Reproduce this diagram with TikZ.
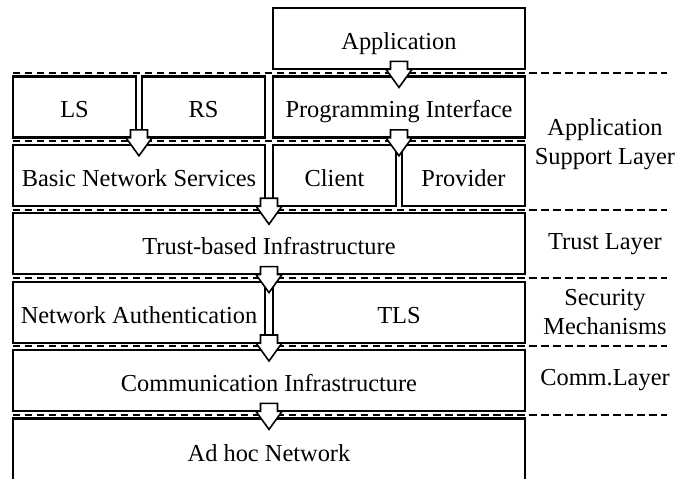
\documentclass[tikz,border=0pt]{standalone}
\usepackage{fontspec}
\setmainfont{Liberation Serif}
\usepackage{tikz}
\usetikzlibrary{positioning,calc}
\tikzset{
  layerbox/.style={
    rectangle, draw=black, line width=1.1pt, fill=white,
    minimum width=#1, minimum height=30.5pt,
    text height=13pt, text depth=2pt,
    inner sep=0pt, outer sep=0pt, align=center,
    font=\fontsize{12.2}{14.5}\selectfont},
  layerbox/.default=126pt,
  layername/.style={
    align=center, inner sep=0pt,
    font=\fontsize{12.2}{14.5}\selectfont},
  sepline/.style={line width=1pt, dash pattern=on 3.75pt off 2.25pt},
  blockarrow/.pic={
    \draw[line width=0.8pt, fill=white, line join=miter]
      (0,0) -- (-6.5pt,9pt) -- (-4.25pt,9pt) -- (-4.25pt,13pt)
      -- (4.25pt,13pt) -- (4.25pt,9pt) -- (6.5pt,9pt) -- cycle;
  },
}

\begin{document}
\begin{tikzpicture}[node distance=3.7pt and 4pt]
  % application support layer
  \node[layerbox] (app) {Application};
  \node[layerbox, below=of app] (prog) {Programming Interface};
  \node[layerbox=61.5pt, below=of prog.south west, anchor=north west] (client) {Client};
  \node[layerbox=61.5pt, below=of prog.south east, anchor=north east] (prov) {Provider};
  \node[layerbox, left=of client] (bns) {Basic Network Services};
  \node[layerbox=61.5pt, above=of bns.north west, anchor=south west] (ls) {LS};
  \node[layerbox=61.5pt, above=of bns.north east, anchor=south east] (rs) {RS};
  % trust, security and communication layers
  \node[layerbox=256pt, below=of bns.south west, anchor=north west] (trust) {Trust-based Infrastructure};
  \node[layerbox, below=of trust.south west, anchor=north west] (netauth) {Network Authentication};
  \node[layerbox, below=of trust.south east, anchor=north east] (tls) {TLS};
  \node[layerbox=256pt, below=of netauth.south west, anchor=north west] (comm) {Communication Infrastructure};
  \node[layerbox=256pt, minimum height=32pt, below=of comm] (adhoc) {Ad hoc Network};

  % layer borders
  \foreach \up/\dn in {app/prog, bns/trust, trust/netauth, netauth/comm, comm/adhoc}
    \draw[sepline] ($(trust.west |- \up.south)!0.5!(trust.west |- \dn.north)$) -- ++(327pt,0);
  \draw[sepline] ($(trust.west |- prog.south)!0.5!(trust.west |- client.north)$) -- ++(256pt,0);

  % layer names
  \node[layername] (asl) at ($(trust.east |- prog.south)!0.5!(trust.east |- client.north)+(40pt,-1.5pt)$) {Application\\Support Layer};
  \node[layername] (tl)  at ([xshift=40pt]trust.east) {Trust Layer};
  \node[layername] (sml) at ([xshift=40pt]tls.east) {Security\\Mechanisms};
  \node[layername] (cl)  at ([xshift=40pt]comm.east) {Comm.Layer};

  % flow between layers
  \coordinate (gap) at ($(netauth.east)!0.5!(tls.west)$);
  \pic at ($(prog.north)+(0,-5.5pt)$) {blockarrow};
  \pic at ($(client.north east)!0.5!(prov.north west)+(0,-5.5pt)$) {blockarrow};
  \pic at ($(bns.north)+(0,-5.5pt)$) {blockarrow};
  \foreach \dn in {trust, netauth, comm, adhoc}
    \pic at ($(gap |- \dn.north)+(0,-5.5pt)$) {blockarrow};

  \pgfresetboundingbox
  \useasboundingbox ($(trust.west |- app.north)+(-6.5pt,4pt)$) rectangle +(345.5pt,-239pt);
\end{tikzpicture}
\end{document}
